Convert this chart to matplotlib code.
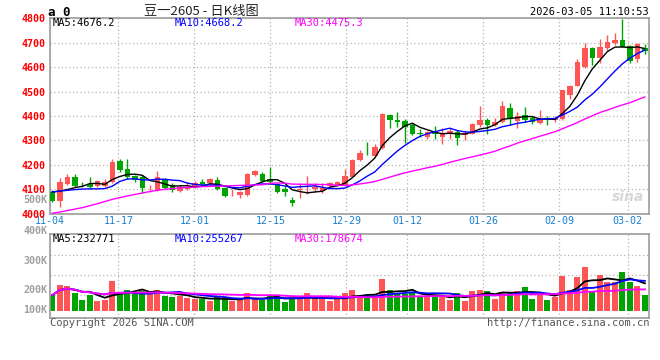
import numpy as np
import pandas as pd
import matplotlib
matplotlib.use('Agg')
import matplotlib.pyplot as plt

# trading days shown on the chart (exchange holidays removed)
days = pd.bdate_range('2025-11-04', '2026-03-05')
closed = pd.to_datetime(['2026-01-01', '2026-01-02', '2026-02-16', '2026-02-17',
                         '2026-02-18', '2026-02-19', '2026-02-20', '2026-02-23'])
days = days.drop(closed)
tick_labels = ['11-04', '11-17', '12-01', '12-15', '12-29', '01-12', '01-26', '02-09', '03-02']

open_ = [4090, 4050, 4122, 4150, 4118, 4122, 4114, 4114, 4128, 4214,
         4184, 4152, 4150, 4103, 4095, 4143, 4118, 4094, 4101, 4110,
         4129, 4125, 4138, 4106, 4083, 4076, 4075, 4157, 4163, 4140,
         4120, 4100, 4055, 4098, 4099, 4100, 4092, 4111, 4116, 4116,
         4150, 4219, 4245, 4237, 4268, 4403, 4385, 4378, 4364, 4330,
         4313, 4330, 4313, 4324, 4334, 4320, 4327, 4363, 4385, 4363,
         4376, 4434, 4380, 4403, 4393, 4370, 4390, 4384, 4386, 4484,
         4524, 4600, 4680, 4636, 4677, 4700, 4713, 4686, 4632, 4677]
high = [4097, 4146, 4163, 4160, 4131, 4150, 4138, 4140, 4222, 4224,
        4225, 4158, 4158, 4118, 4173, 4147, 4125, 4118, 4130, 4134,
        4140, 4145, 4150, 4110, 4100, 4093, 4168, 4180, 4172, 4190,
        4125, 4111, 4066, 4125, 4153, 4125, 4125, 4128, 4132, 4182,
        4224, 4262, 4294, 4283, 4413, 4407, 4418, 4387, 4370, 4345,
        4340, 4360, 4352, 4352, 4343, 4338, 4370, 4440, 4390, 4390,
        4461, 4451, 4416, 4438, 4400, 4424, 4400, 4398, 4508, 4528,
        4632, 4700, 4682, 4717, 4731, 4740, 4798, 4690, 4700, 4694]
low = [4047, 4028, 4118, 4108, 4108, 4100, 4110, 4108, 4125, 4170,
       4140, 4130, 4085, 4088, 4093, 4100, 4090, 4090, 4098, 4105,
       4115, 4122, 4097, 4068, 4070, 4063, 4072, 4153, 4130, 4122,
       4086, 4072, 4032, 4062, 4078, 4088, 4083, 4108, 4112, 4113,
       4148, 4215, 4238, 4235, 4265, 4352, 4355, 4290, 4322, 4313,
       4306, 4306, 4283, 4306, 4280, 4302, 4325, 4355, 4325, 4358,
       4372, 4362, 4349, 4373, 4366, 4366, 4362, 4375, 4384, 4470,
       4522, 4598, 4609, 4616, 4670, 4690, 4682, 4616, 4619, 4655]
close = [4052, 4128, 4148, 4114, 4115, 4108, 4132, 4128, 4213, 4177,
         4150, 4138, 4105, 4106, 4150, 4105, 4095, 4110, 4110, 4125,
         4122, 4142, 4100, 4072, 4086, 4089, 4163, 4176, 4135, 4128,
         4090, 4089, 4042, 4101, 4101, 4108, 4104, 4125, 4130, 4153,
         4221, 4249, 4242, 4272, 4407, 4385, 4376, 4355, 4327, 4324,
         4334, 4325, 4324, 4338, 4311, 4330, 4366, 4385, 4363, 4374,
         4441, 4386, 4400, 4384, 4376, 4389, 4386, 4393, 4505, 4524,
         4619, 4680, 4636, 4681, 4701, 4711, 4684, 4623, 4694, 4668]
# volume in thousands of lots
volume_k = [136, 223, 215, 157, 93, 136, 84, 93, 258, 157,
            180, 157, 171, 151, 180, 128, 122, 128, 113, 99,
            99, 87, 128, 99, 87, 93, 151, 99, 93, 133,
            128, 78, 113, 99, 157, 99, 99, 88, 99, 157,
            180, 116, 136, 107, 276, 180, 145, 145, 165, 116,
            122, 128, 122, 93, 157, 87, 174, 180, 171, 104,
            165, 165, 174, 206, 104, 136, 93, 116, 302, 180,
            293, 383, 165, 310, 252, 252, 336, 252, 215, 136]

# moving average values before enough bars are on screen
ma5_head = [4088, 4092, 4098, 4106]
ma10_head = [4088, 4092, 4095, 4098, 4100, 4101, 4101, 4102, 4112]
ma30_head = [4001, 4006, 4012, 4018, 4024, 4032, 4040, 4049, 4058, 4065,
             4072, 4078, 4084, 4090, 4095, 4099, 4102, 4105, 4107, 4108,
             4110, 4111, 4112, 4113, 4114, 4115, 4116, 4117, 4118]

RED = '#ff5555'
GREEN = '#00a400'
MONO = 'DejaVu Sans Mono'

o = np.array(open_, float)
h = np.array(high, float)
l = np.array(low, float)
c = np.array(close, float)
v = np.array(volume_k, float) * 1000
x = np.arange(len(c))

cs = pd.Series(c)
ma5 = cs.rolling(5).mean().values
ma5[:4] = ma5_head
ma10 = cs.rolling(10).mean().values
ma10[:9] = ma10_head
ma30 = cs.rolling(30).mean().values
ma30[:29] = ma30_head
vs = pd.Series(v)
vma5 = vs.rolling(5, min_periods=1).mean()
vma10 = vs.rolling(10, min_periods=1).mean()
vma30 = vs.rolling(30, min_periods=1).mean()

up = c >= o
colors = np.where(up, RED, GREEN)

fig = plt.figure(figsize=(6.6, 3.6), dpi=100)
W, H = 660.0, 360.0
ax = fig.add_axes([50 / W, 1 - 213.5 / H, 599 / W, 195.2 / H])
axv = fig.add_axes([50 / W, 1 - 317.7 / H, 599 / W, 83.4 / H])

# grid positions of the date labels (sina spaces them slightly wider than the bars)
tick_idx = np.array([list(days.strftime('%m-%d')).index(t) for t in tick_labels])
tick_pos = tick_idx * 7.6 / 7.5 - 0.3

for a in (ax, axv):
    a.set_xlim(-0.307, 79.55)
    for s in a.spines.values():
        s.set_color('#9c9c9c')
        s.set_linewidth(1.2)
    a.set_xticks(tick_pos)
    a.grid(True, color='#b4b4b4', linestyle=(0, (1, 2)), linewidth=0.9)
    a.set_axisbelow(True)
    a.tick_params(length=0)

# candles
ax.vlines(x, l, h, colors=colors, linewidth=1, zorder=2)
ax.bar(x, np.maximum(np.abs(c - o), 3), bottom=np.minimum(o, c), width=0.74,
       color=colors, linewidth=0, zorder=3)
ax.plot(x, ma5, color='black', lw=1, zorder=4)
ax.plot(x, ma10, color='#0000ff', lw=1, zorder=4)
ax.plot(x, ma30, color='#ff00ff', lw=1, zorder=4)
ax.set_ylim(4000, 4800)
ax.set_yticks(np.arange(4000, 4801, 100))
ax.set_yticklabels([str(t) for t in range(4000, 4801, 100)], color='#ff0000',
                   fontsize=7.2, family=MONO, fontweight='bold')
ax.tick_params(axis='y', pad=3)
ax.set_xticklabels(tick_labels, color='#1a7fcf', fontsize=7.2, family=MONO)
ax.tick_params(axis='x', pad=2)
ax.text(0.992, 0.05, 'sina', transform=ax.transAxes, ha='right', va='bottom',
        fontsize=10, fontstyle='italic', fontweight='bold', color='#d6d6d6', zorder=1)

# volume
axv.bar(x, v, width=0.8, color=colors, linewidth=0, zorder=2)
axv.plot(x, vma5, color='black', lw=1.3, zorder=3)
axv.plot(x, vma10, color='#0000ff', lw=1.3, zorder=3)
axv.plot(x, vma30, color='#ff00ff', lw=1.3, zorder=3)
axv.set_ylim(-61e3, 665e3)
axv.set_yticks([137e3, 311e3, 485e3])
axv.set_yticklabels([])
axv.set_xticklabels([])


def ftext(px, py, s, **kw):
    kw.setdefault('family', MONO)
    kw.setdefault('fontsize', 7.5)
    kw.setdefault('va', 'center')
    fig.text(px / W, 1 - py / H, s, **kw)


ftext(48, 12, 'a 0', fontsize=9, fontweight='bold')
ftext(201, 11, '豆一2605 - 日K线图', ha='center', fontsize=9.5,
      family=['Noto Sans CJK SC', 'DejaVu Sans'], color='#222222')
ftext(649, 12, '2026-03-05 11:10:53', ha='right')
ftext(53, 23.5, 'MA5:4676.2', color='black')
ftext(175, 23.5, 'MA10:4668.2', color='#0000ff')
ftext(295, 23.5, 'MA30:4475.3', color='#ff00ff')
ftext(53, 238.5, 'MA5:232771', color='black')
ftext(175, 238.5, 'MA10:255267', color='#0000ff')
ftext(295, 238.5, 'MA30:178674', color='#ff00ff')
for lab, py in [('500K', 200), ('400K', 231), ('300K', 260.5), ('200K', 290), ('100K', 310)]:
    ftext(47, py, lab, ha='right', color='#a0a0a0', fontweight='bold', fontsize=7.2)
ftext(50, 323.5, 'Copyright 2026 SINA.COM', color='#555555')
ftext(649, 323.5, 'http://finance.sina.com.cn', ha='right', color='#555555')

fig.savefig('out.png', dpi=100)
